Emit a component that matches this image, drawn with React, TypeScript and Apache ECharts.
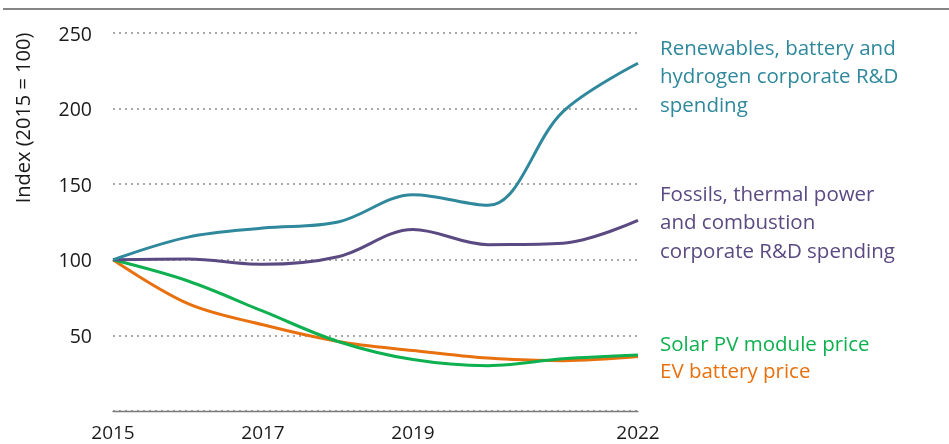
import React, { useEffect, useRef } from 'react';
import * as echarts from 'echarts';

const years = ['2015', '2016', '2017', '2018', '2019', '2020', '2021', '2022'];
const shownYears = ['2015', '2017', '2019', '2022'];
const renewables = [100, 115, 121, 125, 143, 136, 198, 230];
const fossils = [100, 100.5, 97, 102, 120, 110, 111, 126];
const solarPV = [100, 86, 66, 46, 34, 30, 34.5, 37];
const evBattery = [100, 71, 57, 46, 40, 35, 33.3, 36];

const seriesNames = [
  'Renewables, battery and hydrogen corporate R&D spending',
  'Fossils, thermal power and combustion corporate R&D spending',
  'Solar PV module price',
  'EV battery price',
];
const labelLines = [
  ['Renewables, battery and', 'hydrogen corporate R&D', 'spending'],
  ['Fossils, thermal power', 'and combustion', 'corporate R&D spending'],
  ['Solar PV module price'],
  ['EV battery price'],
];
const colors = ['#2F889C', '#5B4A82', '#0FB050', '#E8700F'];

const FONT = '"Open Sans", Lato, sans-serif';

export default function App() {
  const ref = useRef<HTMLDivElement>(null);
  useEffect(() => {
    document.body.style.margin = '0';
    const chart = echarts.init(ref.current!, undefined, { renderer: 'svg' });
    const data = [renewables, fossils, solarPV, evBattery];
    const labelCenters = [46.7, 193, 343.3, 370];
    const lineH = 28.4;
    const graphics: any[] = [
      {
        type: 'rect',
        shape: { x: 3, y: 8, width: 946, height: 2 },
        style: { fill: '#858585' },
        silent: true,
      },
      {
        type: 'text',
        x: 22,
        y: 118,
        rotation: Math.PI / 2,
        style: {
          text: 'Index (2015 = 100)',
          fill: '#1a1a1a',
          font: `20px ${FONT}`,
          align: 'center',
          verticalAlign: 'middle',
        },
      },
    ];
    labelLines.forEach((lines, i) => {
      lines.forEach((t, j) => {
        graphics.push({
          type: 'text',
          x: 660,
          y: labelCenters[i] + j * lineH,
          style: {
            text: t,
            fill: colors[i],
            font: `20.5px ${FONT}`,
            align: 'left',
            verticalAlign: 'middle',
          },
        });
      });
    });
    chart.setOption({
      animation: false,
      grid: { left: 113, right: 311, top: 33, bottom: 33, containLabel: false },
      xAxis: {
        type: 'category',
        data: years,
        boundaryGap: false,
        axisLine: { show: true, lineStyle: { color: '#7a7a7a', width: 1.3 } },
        axisTick: { show: false },
        splitLine: { show: false },
        axisLabel: {
          interval: (_i: number, v: string) => shownYears.includes(v),
          margin: 11,
          color: '#1a1a1a',
          fontSize: 19,
          fontFamily: FONT,
        },
      },
      yAxis: {
        type: 'value',
        min: 0,
        max: 250,
        interval: 50,
        axisLine: { show: false },
        axisTick: { show: false },
        axisLabel: {
          formatter: (v: number) => (v === 0 ? '' : String(v)),
          margin: 21,
          color: '#1a1a1a',
          fontSize: 19.5,
          fontFamily: FONT,
        },
        splitLine: { lineStyle: { color: '#8c8c8c', type: [2, 4], width: 1.6 } },
      },
      series: data.map((d, i) => ({
        name: seriesNames[i],
        type: 'line',
        data: d,
        smooth: 0.35,
        symbol: 'none',
        lineStyle: { color: colors[i], width: 3 },
        z: 3 + (3 - i),
      })),
      graphic: graphics,
    });
    return () => chart.dispose();
  }, []);
  return (
    <div
      ref={ref}
      style={{ position: 'fixed', left: 0, top: 0, width: 949, height: 444 }}
    />
  );
}
